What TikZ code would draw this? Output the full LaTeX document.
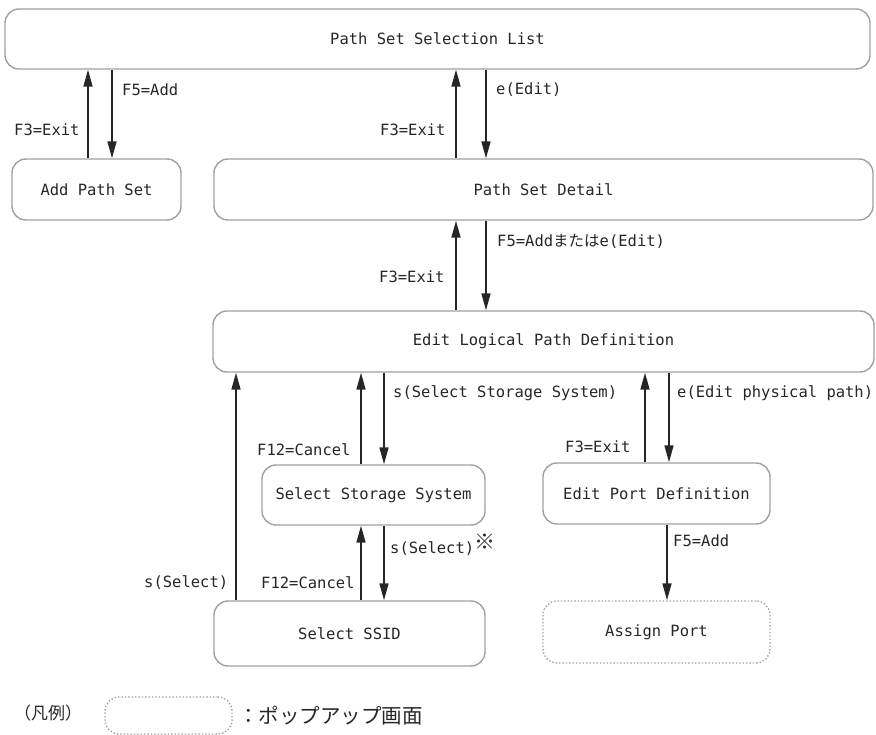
\documentclass[tikz,border=0pt]{standalone}
\usepackage{fontspec}
\setmainfont{DejaVu Sans Mono}
\newfontfamily\jpfont{Noto Sans CJK JP}
\usepackage{xcolor}
\usetikzlibrary{arrows.meta, positioning}

\definecolor{boxgray}{HTML}{A0A0A0}
\definecolor{ink}{HTML}{262626}

\tikzset{
  screen/.style={rectangle, draw=boxgray, line width=1.4pt, rounded corners=14pt,
    text=ink, font=\fontsize{15.5}{18}\selectfont},
  popup/.style={screen, dotted},
  lbl/.style={anchor=west, inner sep=0pt, text=ink, font=\fontsize{15.5}{18}\selectfont},
  arr/.style={-{Triangle[length=17pt,width=9pt]}, line width=1.6pt, draw=ink},
}

\begin{document}
\begin{tikzpicture}[x=1pt, y=-1pt]
  \useasboundingbox (0,0) rectangle (876,735);

  % screens
  \node[screen, minimum width=865pt, minimum height=60pt] (list) at (437.5,39) {Path Set Selection List};
  \node[screen, minimum width=169pt, minimum height=61pt] (add) at (96.5,189.5) {Add Path Set};
  \node[screen, minimum width=659pt, minimum height=61pt] (detail) at (543.5,189.5) {Path Set Detail};
  \node[screen, minimum width=661pt, minimum height=61pt] (logical) at (543.5,341.5) {Edit Logical Path Definition};
  \node[screen, minimum width=223pt, minimum height=60pt] (storage) at (373.5,495) {Select Storage System};
  \node[screen, minimum width=227pt, minimum height=61pt] (port) at (656.5,493.5) {Edit Port Definition};
  \node[screen, minimum width=271pt, minimum height=65pt] (ssid) at (349.5,633.5) {Select SSID};
  \node[popup, minimum width=227pt, minimum height=62pt] (assign) at (656.5,632) {Assign Port};

  % transitions
  \draw[arr] (add.north -| 88,0) -- (list.south -| 88,0);
  \draw[arr] (list.south -| 112,0) -- (add.north -| 112,0);
  \draw[arr] (detail.north -| 456,0) -- (list.south -| 456,0);
  \draw[arr] (list.south -| 486,0) -- (detail.north -| 486,0);
  \draw[arr] (logical.north -| 456,0) -- (detail.south -| 456,0);
  \draw[arr] (detail.south -| 486,0) -- (logical.north -| 486,0);
  \draw[arr] (ssid.north -| 236,0) -- (logical.south -| 236,0);
  \draw[arr] (storage.north -| 361,0) -- (logical.south -| 361,0);
  \draw[arr] (logical.south -| 384,0) -- (storage.north -| 384,0);
  \draw[arr] (port.north -| 645,0) -- (logical.south -| 645,0);
  \draw[arr] (logical.south -| 669,0) -- (port.north -| 669,0);
  \draw[arr] (ssid.north -| 361,0) -- (storage.south -| 361,0);
  \draw[arr] (storage.south -| 384,0) -- (ssid.north -| 384,0);
  \draw[arr] (port.south -| 667,0) -- (assign.north -| 667,0);

  % key labels
  \node[lbl] (f5add) at (122,90) {F5=Add};
  \node[lbl] (f3add) at (14,130) {F3=Exit};
  \node[lbl] (f3list) at (380,130) {F3=Exit};
  \node[lbl] (editlist) at (496,90) {e(Edit)};
  \node[lbl] (f5detail) at (497,241) {F5=Add{\jpfont または}e(Edit)};
  \node[lbl] (f3detail) at (379,277) {F3=Exit};
  \node[lbl] (selstor) at (393,393) {s(Select Storage System)};
  \node[lbl] (editphys) at (677,393) {e(Edit physical path)};
  \node[lbl] (cancelstor) at (257,450) {F12=Cancel};
  \node[lbl] (f3port) at (565,447) {F3=Exit};
  \node[lbl] (selssid) at (390,549) {s(Select)};
  \node[lbl, font=\jpfont\fontsize{21}{24}\selectfont] (note) at (474,542) {※};
  \node[lbl] (f5port) at (673,541) {F5=Add};
  \node[lbl] (selback) at (144,583) {s(Select)};
  \node[lbl] (cancelssid) at (261,583) {F12=Cancel};

  % legend
  \node[lbl, font=\jpfont\fontsize{17}{20}\selectfont] (legend) at (14,713) {（凡例）};
  \node[popup, minimum width=127pt, minimum height=37pt] (legendbox) at (168.5,715.5) {};
  \node[lbl, font=\jpfont\fontsize{20.5}{24}\selectfont] (legendtext) at (238,716) {：ポップアップ画面};
\end{tikzpicture}
\end{document}
